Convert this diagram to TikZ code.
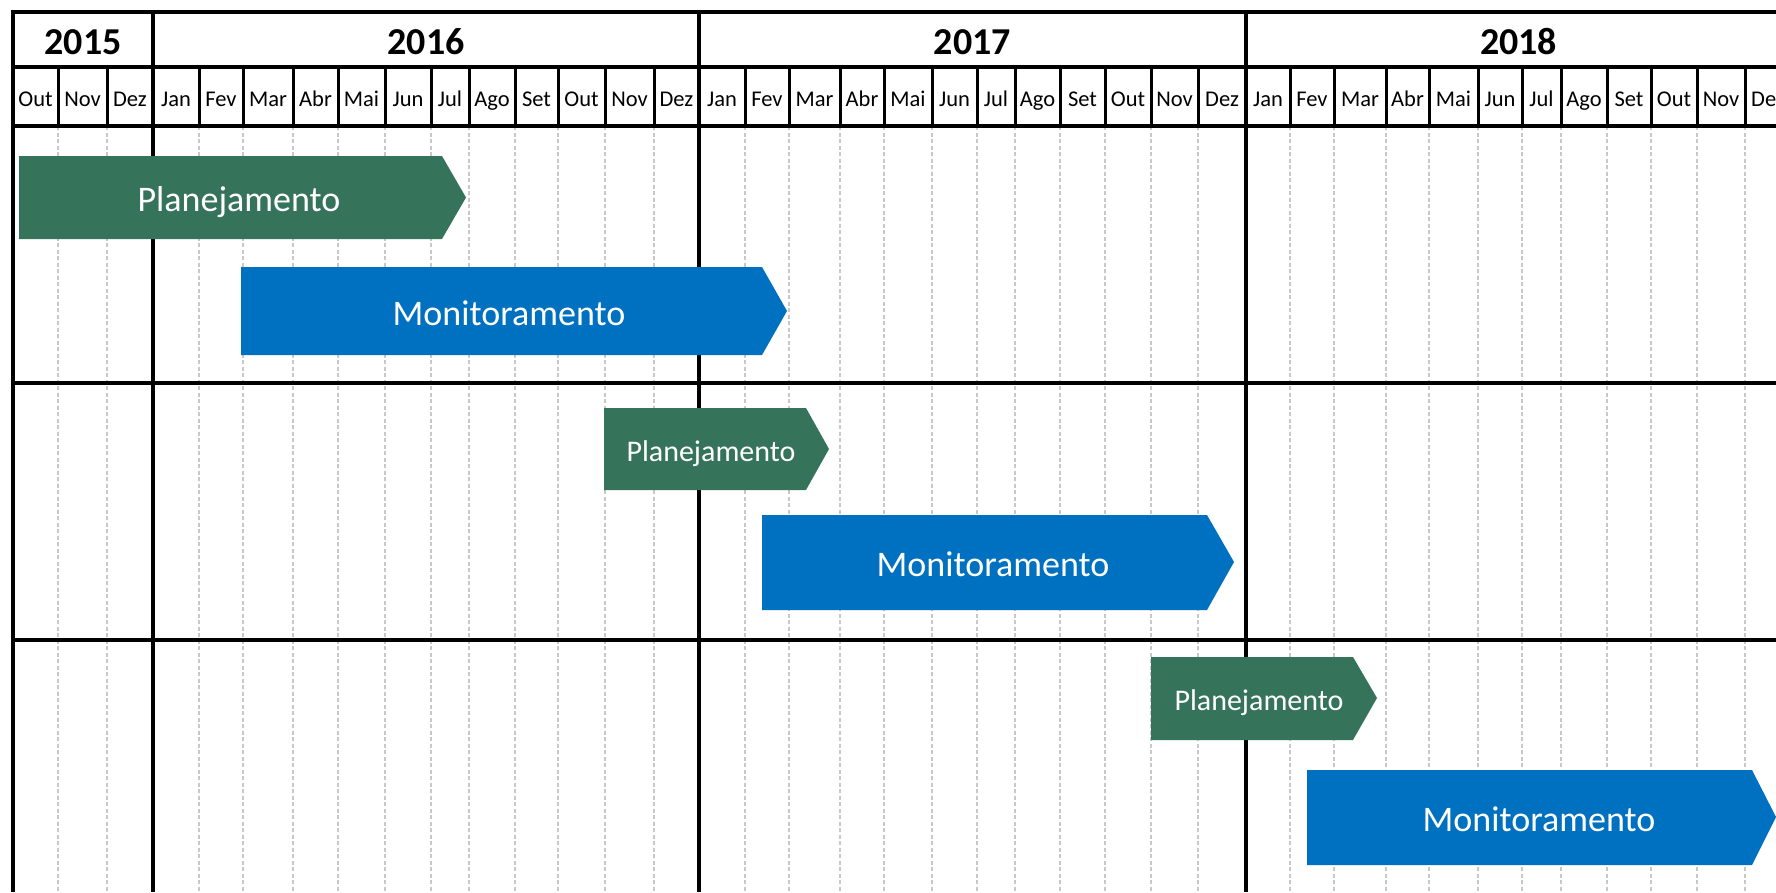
\documentclass[tikz,border=0pt]{standalone}
\usepackage{fontspec}
\setmainfont{Carlito}
\definecolor{plangreen}{HTML}{35735A}
\definecolor{monblue}{HTML}{0070C0}
\definecolor{gridgray}{HTML}{C8C8C8}
\begin{document}
\begin{tikzpicture}[x=1pt,y=-1pt,
  thickline/.style={line width=3.6pt, black},
  sepline/.style={line width=3pt, black},
  gridline/.style={gridgray, line width=1.5pt, dash pattern=on 4pt off 2.5pt},
  yearlabel/.style={font=\fontsize{38}{40}\selectfont\bfseries, anchor=base, inner sep=0pt},
  monthlabel/.style={font=\fontsize{22.5}{24}\selectfont, anchor=base, inner sep=0pt},
  barlabel/.style={font=\fontsize{36}{40}\selectfont, text=white, inner sep=0pt},
  smallbarlabel/.style={barlabel, font=\fontsize{30}{34}\selectfont},
  plan/.style={fill=plangreen},
  mon/.style={fill=monblue}]
\useasboundingbox (0,0) rectangle (1776,892);
\clip (0,0) rectangle (1776,892);

% dashed month grid in body
\foreach \x in {58,107,199,243,293,338,385,431,469,515,558,605,654,745,789,840,884,932,977,1015,1060,1105,1151,1198,1290,1334,1386,1429,1478,1522,1561,1607,1651,1697,1745}
  \draw[gridline] (\x,126) -- (\x,892);

% header month separators
\foreach \x in {58,107,199,243,293,338,385,431,469,515,558,605,654,745,789,840,884,932,977,1015,1060,1105,1151,1198,1290,1334,1386,1429,1478,1522,1561,1607,1651,1697,1745}
  \draw[sepline] (\x,67) -- (\x,126);

% year separators
\foreach \x in {13,153,699,1246}
  \draw[thickline] (\x,10.2) -- (\x,892);

% horizontal lines
\foreach \y in {12,67,126,383,640}
  \draw[thickline] (11.2,\y) -- (1800,\y);

% year labels
\node[yearlabel] (y2015) at (83,54) {2015};
\node[yearlabel] (y2016) at (426,54) {2016};
\node[yearlabel] (y2017) at (972.5,54) {2017};
\node[yearlabel] (y2018) at (1518.5,54) {2018};

% month labels
\foreach \a/\b/\t [count=\i] in {13/58/Out,58/107/Nov,107/153/Dez,
  153/199/Jan,199/243/Fev,243/293/Mar,293/338/Abr,338/385/Mai,385/431/Jun,431/469/Jul,469/515/Ago,515/558/Set,558/605/Out,605/654/Nov,654/699/Dez,
  699/745/Jan,745/789/Fev,789/840/Mar,840/884/Abr,884/932/Mai,932/977/Jun,977/1015/Jul,1015/1060/Ago,1060/1105/Set,1105/1151/Out,1151/1198/Nov,1198/1246/Dez,
  1246/1290/Jan,1290/1334/Fev,1334/1386/Mar,1386/1429/Abr,1429/1478/Mai,1478/1522/Jun,1522/1561/Jul,1561/1607/Ago,1607/1651/Set,1651/1697/Out,1697/1745/Nov,1745/1791/Dez}
  \node[monthlabel] (mon\i) at ({(\a+\b)/2},106.5) {\t};

% bars
\fill[plan] (19,156) -- (442,156) -- (466,197.5) -- (442,239) -- (19,239) -- cycle;
\node[barlabel] (p1) at (239,202) {Planejamento};

\fill[mon] (241,267) -- (762,267) -- (787,311) -- (762,355) -- (241,355) -- cycle;
\node[barlabel] (m1) at (509,313.5) {Monitoramento};

\fill[plan] (604,408) -- (806,408) -- (829,449) -- (806,490) -- (604,490) -- cycle;
\node[smallbarlabel] (p2) at (711,453.5) {Planejamento};

\fill[mon] (762,515) -- (1207,515) -- (1234,562) -- (1207,610) -- (762,610) -- cycle;
\node[barlabel] (m2) at (993,564) {Monitoramento};

\fill[plan] (1151,657) -- (1353,657) -- (1377,698) -- (1353,740) -- (1151,740) -- cycle;
\node[smallbarlabel] (p3) at (1259,702.5) {Planejamento};

\fill[mon] (1307,770) -- (1752,770) -- (1776,817) -- (1752,865) -- (1307,865) -- cycle;
\node[barlabel] (m3) at (1539,819.5) {Monitoramento};
\end{tikzpicture}
\end{document}
